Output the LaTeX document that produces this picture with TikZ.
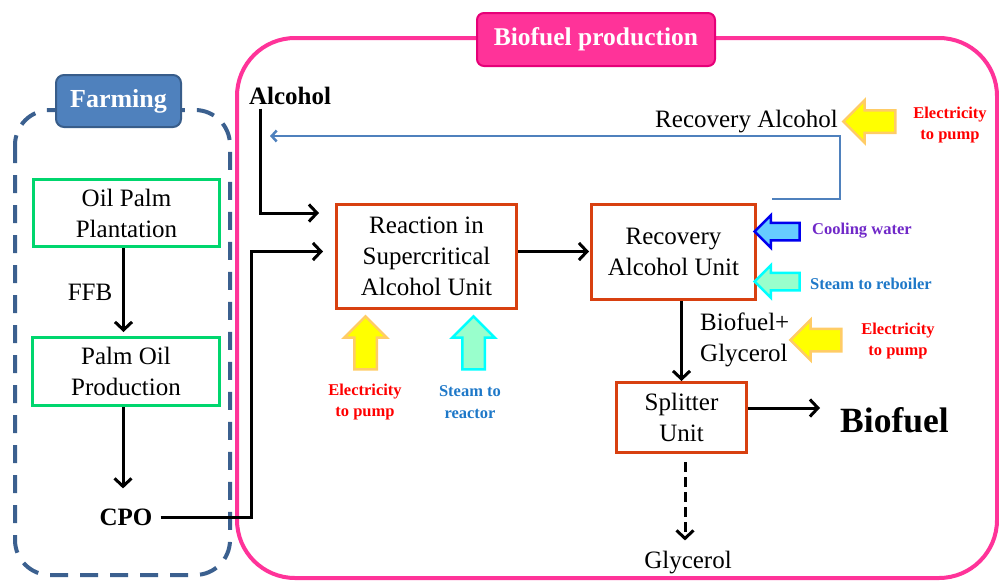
\documentclass[tikz,border=0pt]{standalone}
\usepackage{fontspec}
\setmainfont{Liberation Serif}
\usetikzlibrary{arrows.meta,shapes.arrows,calc}
\definecolor{pinkc}{RGB}{255,51,153}
\definecolor{pinkd}{RGB}{230,0,120}
\definecolor{farmblue}{RGB}{79,129,189}
\definecolor{farmdark}{RGB}{56,93,138}
\definecolor{dashblue}{RGB}{59,96,143}
\definecolor{greenc}{RGB}{0,214,110}
\definecolor{orangec}{RGB}{216,64,16}
\definecolor{recyc}{RGB}{79,129,189}
\definecolor{yel}{RGB}{255,255,0}
\definecolor{yelb}{RGB}{255,204,102}
\definecolor{mint}{RGB}{153,255,204}
\definecolor{cyanb}{RGB}{0,255,255}
\definecolor{lblue}{RGB}{102,204,255}
\definecolor{dblue}{RGB}{0,0,238}
\definecolor{purp}{RGB}{112,40,200}
\definecolor{steamblue}{RGB}{30,120,200}
\definecolor{redt}{RGB}{255,0,0}
\begin{document}
\begin{tikzpicture}[x=1pt,y=-1pt,
  every node/.style={inner sep=0pt},
  boxtxt/.style={font=\fontsize{25}{31}\selectfont, align=center},
  gbox/.style={boxtxt, draw=greenc, line width=3pt, fill=white},
  obox/.style={boxtxt, draw=orangec, line width=3pt, fill=white},
  lbl/.style={font=\fontsize{25}{31}\selectfont, align=center},
  blbl/.style={font=\fontsize{25}{31}\selectfont\bfseries},
  smalltxt/.style={font=\fontsize{16.5}{21.5}\selectfont\bfseries, align=center},
  arr/.style={line width=3pt, -{Straight Barb[length=8pt,width=17pt]}},
  blk/.style={single arrow, inner xsep=0pt, minimum width=0pt, line width=2.5pt, single arrow tip angle=90},
]
\useasboundingbox (0,0) rectangle (999,582);
% containers
\draw[pinkc, line width=4pt, rounded corners=58pt] (237,38) rectangle (997,578);
\draw[dashblue, line width=4pt, dash pattern=on 18pt off 12pt, rounded corners=35pt] (15,110) rectangle (230,575);
\node[draw=farmdark, fill=farmblue, line width=2pt, rounded corners=8pt, minimum width=125pt, minimum height=52pt, text=white, font=\fontsize{26}{30}\selectfont\bfseries] (farm) at (118.5,101) {Farming};
\node[draw=pinkd, fill=pinkc, line width=2pt, rounded corners=7pt, minimum width=238pt, minimum height=53pt, text=white, font=\fontsize{25.5}{30}\selectfont\bfseries] (bp) at (596,39.5) {Biofuel production};
% boxes
\node[gbox, minimum width=186pt, minimum height=67pt] (oil) at (126.5,213) {Oil Palm\\Plantation};
\node[gbox, minimum width=187pt, minimum height=68pt] (pop) at (126,371.5) {Palm Oil\\Production};
\node[obox, minimum width=180pt, minimum height=104pt] (rx) at (426.5,256.5) {Reaction in\\Supercritical\\Alcohol Unit};
\node[obox, minimum width=164pt, minimum height=95pt] (rec) at (673.5,252) {Recovery\\Alcohol Unit};
\node[obox, minimum width=130pt, minimum height=70pt] (spl) at (681.5,417.5) {Splitter\\Unit};
% labels
\node[lbl] (ffb) at (90,292) {FFB};
\node[blbl] (cpo) at (126,517) {CPO};
\node[blbl] (alc) at (290,96) {Alcohol};
\node[lbl, anchor=east] (ra) at (838,122) {Recovery Alcohol};
\node[lbl, align=left, anchor=west] (bg) at (700,340) {Biofuel+\\Glycerol};
\node[font=\fontsize{35.5}{40}\selectfont\bfseries, anchor=west] (bf) at (840,420) {Biofuel};
\node[lbl] (gly) at (688,563) {Glycerol};
\node[smalltxt, text=redt] (e1) at (950,125) {Electricity\\to pump};
\node[smalltxt, text=redt] (e2) at (898,341) {Electricity\\to pump};
\node[smalltxt, text=redt] (e3) at (365,402) {Electricity\\to pump};
\node[smalltxt, text=steamblue] (s1) at (470,402) {Steam to\\reactor};
\node[smalltxt, text=purp, anchor=west] (cw) at (812,231) {Cooling water};
\node[smalltxt, text=steamblue, anchor=west] (sr) at (810,284) {Steam to reboiler};
% block arrows
\node[blk, draw=yelb, fill=yel, inner ysep=10pt, single arrow head extend=10pt, minimum height=52pt, rotate=180] (ya1) at (875,121.5) {};
\node[blk, draw=dblue, fill=lblue, inner ysep=7.5pt, single arrow head extend=7.5pt, minimum height=45pt, rotate=180] (cwa) at (781.5,231.5) {};
\node[blk, draw=cyanb, fill=mint, inner ysep=7.5pt, single arrow head extend=7.5pt, minimum height=45pt, rotate=180] (sra) at (781.5,281.5) {};
\node[blk, draw=yelb, fill=yel, inner ysep=10pt, single arrow head extend=9pt, minimum height=51pt, rotate=180] (ya2) at (821.5,340) {};
\node[blk, draw=yelb, fill=yel, inner ysep=10pt, single arrow head extend=10pt, minimum height=53pt, rotate=90] (ya3) at (365.5,348.5) {};
\node[blk, draw=cyanb, fill=mint, inner ysep=10pt, single arrow head extend=10pt, minimum height=53pt, rotate=90] (ma) at (473.5,348.5) {};
% connectors
\draw[arr, shorten >=4pt] ([xshift=-3pt]oil.south) -- ([xshift=-3pt]oil.south |- pop.north);
\draw[arr, shorten >=20pt] ([xshift=-3pt]pop.south) -- ([xshift=-3pt]pop.south |- cpo.north);
\draw[arr, shorten >=12pt] ([xshift=8pt]cpo.east) -| ([xshift=-84pt,yshift=5pt]rx.west) -- ([yshift=5pt]rx.west);
\draw[arr, shorten >=16pt] ([xshift=12pt,yshift=-3.5pt]alc.south west) |- ([yshift=43.5pt]rx.west);
\draw[arr, shorten >=1pt] ([yshift=5pt]rx.east) -- ([yshift=5pt]rx.east -| rec.west);
\draw[arr] (spl.north |- rec.south) -- (spl.north);
\draw[arr, shorten >=20pt] ([yshift=9.5pt]spl.east) -- ([yshift=9.5pt]spl.east -| bf.west);
\draw[line width=3pt, dash pattern=on 10pt off 5pt, -{Straight Barb[length=8pt,width=17pt]}, shorten >=11pt] ([xshift=3.5pt,yshift=-8pt]spl.south) -- ([xshift=3.5pt]spl.south |- gly.north);
\coordinate (rc1) at (772,199);
\coordinate (rc2) at (270,136);
\draw[recyc, line width=2.5pt, -{Straight Barb[length=5pt,width=11pt]}] (rc1) -- ++(68,0) |- (rc2);
\end{tikzpicture}
\end{document}
